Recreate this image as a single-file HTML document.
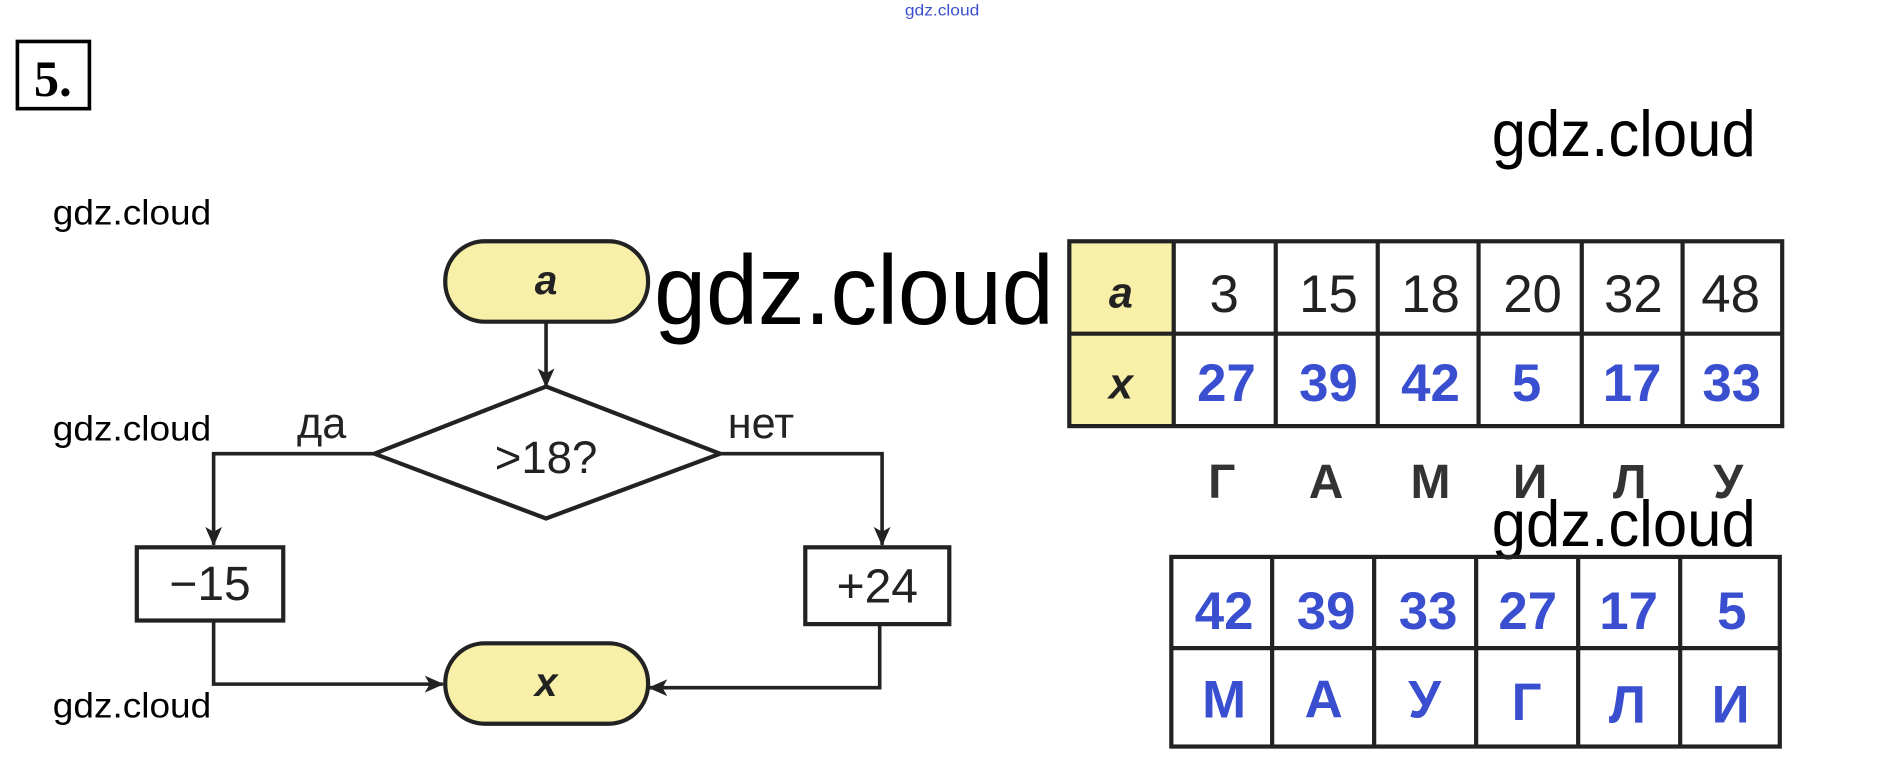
<!DOCTYPE html>
<html><head><meta charset="utf-8"><style>
html,body{margin:0;padding:0;background:#fff;width:1877px;height:761px;overflow:hidden}
svg{display:block}
.w{font-family:"Liberation Sans",sans-serif;fill:#000}
.h{font-family:"Liberation Sans",sans-serif;font-size:44px;fill:#222;text-anchor:middle}
.b{font-family:"Liberation Sans",sans-serif;font-size:44px;font-weight:bold;fill:#3a4fd0;text-anchor:middle}
.l{font-family:"Liberation Sans",sans-serif;font-size:40px;font-weight:bold;fill:#333;text-anchor:middle}
</style></head><body>
<svg width="1877" height="761" viewBox="0 0 1564 634" xmlns="http://www.w3.org/2000/svg">
<defs><marker id="ar" markerWidth="16" markerHeight="14" refX="15" refY="7" orient="auto" markerUnits="userSpaceOnUse"><path d="M0,0 L16,7 L0,14 L4,7 Z" fill="#222"/></marker></defs>
<text x="785" y="13" font-family="Liberation Sans,sans-serif" font-size="13" fill="#3a4fd0" text-anchor="middle" textLength="62" lengthAdjust="spacingAndGlyphs">gdz.cloud</text>
<rect x="14.5" y="34.5" width="60" height="56" fill="none" stroke="#000" stroke-width="3"/>
<text x="44" y="80" font-family="Liberation Serif,serif" font-size="42" font-weight="bold" text-anchor="middle">5.</text>
<text class="w" x="1243" y="130" font-size="54" textLength="220" lengthAdjust="spacingAndGlyphs">gdz.cloud</text>
<text class="w" x="44" y="187" font-size="29" textLength="132" lengthAdjust="spacingAndGlyphs">gdz.cloud</text>
<text class="w" x="44" y="367" font-size="29" textLength="132" lengthAdjust="spacingAndGlyphs">gdz.cloud</text>
<text class="w" x="44" y="598" font-size="29" textLength="132" lengthAdjust="spacingAndGlyphs">gdz.cloud</text>
<g stroke="#222" stroke-width="3" fill="none">
<line x1="455" y1="268" x2="455" y2="322" marker-end="url(#ar)"/>
<polyline points="312,378 178,378 178,454" marker-end="url(#ar)"/>
<polyline points="600,378 735,378 735,454" marker-end="url(#ar)"/>
<polyline points="178,517 178,570 369,570" marker-end="url(#ar)"/>
<polyline points="733,520 733,573 541,573" marker-end="url(#ar)"/>
</g>
<rect x="371" y="201" width="169" height="67" rx="33" fill="#f8f0a8" stroke="#222" stroke-width="3.5"/>
<text x="455" y="245" font-family="Liberation Sans,sans-serif" font-size="34" font-weight="bold" font-style="italic" text-anchor="middle" fill="#222">a</text>
<rect x="371" y="536" width="169" height="67" rx="33" fill="#f8f0a8" stroke="#222" stroke-width="3.5"/>
<text x="455" y="580" font-family="Liberation Sans,sans-serif" font-size="34" font-weight="bold" font-style="italic" text-anchor="middle" fill="#222">x</text>
<polygon points="312,378 455,322 600,378 455,432" fill="#fff" stroke="#222" stroke-width="3.5"/>
<text x="455" y="394" font-family="Liberation Sans,sans-serif" font-size="38" fill="#222" text-anchor="middle">&gt;18?</text>
<text x="268" y="365" font-family="Liberation Sans,sans-serif" font-size="36" fill="#222" text-anchor="middle">да</text>
<text x="634" y="365" font-family="Liberation Sans,sans-serif" font-size="36" fill="#222" text-anchor="middle">нет</text>
<rect x="114" y="456" width="122" height="61" fill="#fff" stroke="#222" stroke-width="3.5"/>
<text x="175" y="500" font-family="Liberation Sans,sans-serif" font-size="40" fill="#222" text-anchor="middle">−15</text>
<rect x="671" y="456" width="120" height="64" fill="#fff" stroke="#222" stroke-width="3.5"/>
<text x="731" y="502" font-family="Liberation Sans,sans-serif" font-size="40" fill="#222" text-anchor="middle">+24</text>
<text class="w" x="545" y="270" font-size="82" textLength="333" lengthAdjust="spacingAndGlyphs">gdz.cloud</text>
<rect x="891" y="201" width="87" height="154" fill="#f8f0a8"/>
<g stroke="#222" stroke-width="3.5" fill="none">
<rect x="891" y="201" width="594" height="154"/>
<line x1="891" y1="278" x2="1485" y2="278"/>
<line x1="978" y1="201" x2="978" y2="355"/><line x1="1063" y1="201" x2="1063" y2="355"/><line x1="1148" y1="201" x2="1148" y2="355"/><line x1="1232" y1="201" x2="1232" y2="355"/><line x1="1318" y1="201" x2="1318" y2="355"/><line x1="1402" y1="201" x2="1402" y2="355"/>
</g>
<text x="934" y="256" font-family="Liberation Sans,sans-serif" font-size="36" font-weight="bold" font-style="italic" text-anchor="middle" fill="#222">a</text>
<text x="934" y="332" font-family="Liberation Sans,sans-serif" font-size="36" font-weight="bold" font-style="italic" text-anchor="middle" fill="#222">x</text>
<text class="h" x="1020" y="260">3</text><text class="h" x="1107" y="260">15</text><text class="h" x="1192" y="260">18</text><text class="h" x="1277" y="260">20</text><text class="h" x="1361" y="260">32</text><text class="h" x="1442" y="260">48</text>
<text class="b" x="1022" y="334">27</text><text class="b" x="1107" y="334">39</text><text class="b" x="1192" y="334">42</text><text class="b" x="1272" y="334">5</text><text class="b" x="1360" y="334">17</text><text class="b" x="1443" y="334">33</text>
<text class="l" x="1018" y="415">Г</text><text class="l" x="1105" y="415">А</text><text class="l" x="1192" y="415">М</text><text class="l" x="1275" y="415">И</text><text class="l" x="1358" y="415">Л</text><text class="l" x="1440" y="415">У</text>
<text class="w" x="1243" y="455" font-size="54" textLength="220" lengthAdjust="spacingAndGlyphs">gdz.cloud</text>
<g stroke="#222" stroke-width="3.5" fill="none">
<rect x="976" y="464" width="507" height="158"/>
<line x1="976" y1="540" x2="1483" y2="540"/>
<line x1="1060" y1="464" x2="1060" y2="622"/><line x1="1145" y1="464" x2="1145" y2="622"/><line x1="1230" y1="464" x2="1230" y2="622"/><line x1="1315" y1="464" x2="1315" y2="622"/><line x1="1400" y1="464" x2="1400" y2="622"/>
</g>
<text class="b" x="1020" y="524">42</text><text class="b" x="1105" y="524">39</text><text class="b" x="1190" y="524">33</text><text class="b" x="1273" y="524">27</text><text class="b" x="1357" y="524">17</text><text class="b" x="1443" y="524">5</text>
<text class="b" x="1020" y="598">М</text><text class="b" x="1103" y="598">А</text><text class="b" x="1187" y="598">У</text><text class="b" x="1272" y="600">Г</text><text class="b" x="1356" y="602">Л</text><text class="b" x="1442" y="602">И</text>
</svg>
</body></html>
